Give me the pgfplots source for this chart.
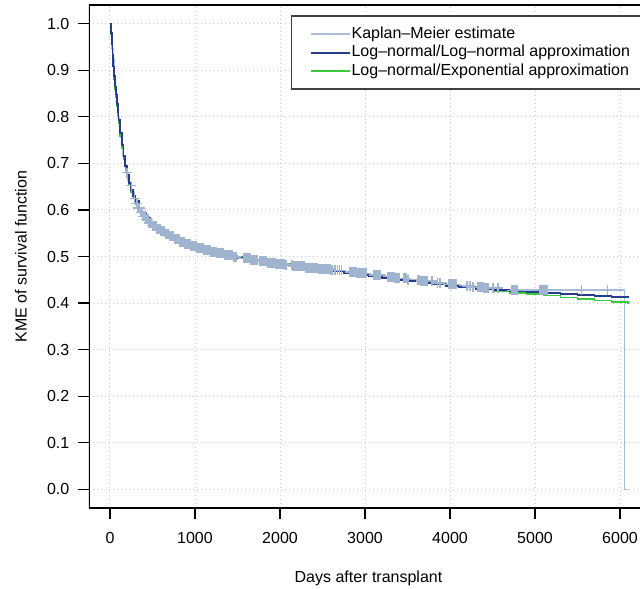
\documentclass[border=0pt]{standalone}
\usepackage{fontspec}
\setmainfont{Liberation Sans}
\usepackage{pgfplots}
\pgfplotsset{compat=1.18}
\definecolor{kmc}{HTML}{A9BCD8}
\definecolor{kmm}{HTML}{A0B3CF}
\definecolor{lnc}{HTML}{283C8E}
\definecolor{exc}{HTML}{3CC83C}
\definecolor{gridc}{HTML}{C8C8C8}
\begin{document}
\begin{tikzpicture}[font=\fontsize{16}{19}\selectfont]
\begin{axis}[name=ax, scale only axis, width=551pt, height=503pt,
  xmin=-247, xmax=6235, ymin=-0.04, ymax=1.04,
  axis line style={draw=none},
  xtick={0,1000,2000,3000,4000,5000,6000},
  ytick={0,0.1,0.2,0.3,0.4,0.5,0.6,0.7,0.8,0.9,1.0},
  xtick pos=bottom, ytick pos=left, tick align=outside, major tick length=10.5pt,
  tick style={black, line width=1.2pt},
  grid=major, major grid style={gridc, line width=1pt, dash pattern=on 1pt off 3pt},
  /pgf/number format/assume math mode=true,
  yticklabel style={anchor=east, inner sep=0pt, xshift=-9pt,
    /pgf/number format/fixed, /pgf/number format/fixed zerofill, /pgf/number format/precision=1},
  xticklabel style={anchor=north, inner sep=0pt, yshift=-14pt, /pgf/number format/1000 sep={}},
  xlabel={Days after transplant}, ylabel={KME of survival function},
  xlabel style={at={(axis description cs:0.5,0)}, anchor=center, yshift=-70pt, xshift=4pt},
  ylabel style={at={(axis description cs:0,0.5)}, anchor=center, yshift=68pt},
  legend style={at={(rel axis cs:1.0145,0.978)}, anchor=north east, outer sep=0pt,
    draw=black!75, line width=1.2pt,
    inner xsep=18pt, inner ysep=10pt, nodes={inner sep=0pt, text height=12pt, text depth=4pt},
    row sep=2.5pt, column sep=1pt},
  legend cell align=left,
  legend image code/.code={\draw[#1] (0pt,0pt) -- (39pt,0pt);},
]
\addlegendimage{kmc, line width=2pt}\addlegendentry{Kaplan--Meier estimate}
\addlegendimage{lnc, line width=2pt}\addlegendentry{Log--normal/Log--normal approximation}
\addlegendimage{exc, line width=2pt}\addlegendentry{Log--normal/Exponential approximation}

% Kaplan-Meier step function
\addplot[forget plot, const plot, kmc, line width=1.5pt] coordinates {
(0,1.000) (8,0.985) (15,0.965) (25,0.945) (35,0.925) (45,0.905) (55,0.885) (65,0.862)
(75,0.842) (85,0.822) (95,0.800) (110,0.778) (125,0.757) (140,0.737) (155,0.716) (170,0.698)
(190,0.680) (210,0.664) (230,0.652) (255,0.638) (280,0.625) (305,0.614) (330,0.604) (360,0.595)
(390,0.586) (420,0.580) (460,0.572) (500,0.566) (550,0.560) (600,0.554) (650,0.549) (700,0.543)
(760,0.537) (820,0.532) (880,0.527) (950,0.522) (1020,0.518) (1100,0.514) (1180,0.510) (1260,0.507)
(1350,0.503) (1450,0.499) (1550,0.496) (1650,0.493) (1750,0.490) (1850,0.487) (1950,0.484) (2050,0.482)
(2150,0.479) (2300,0.476) (2450,0.473) (2600,0.470) (2750,0.467) (2900,0.464) (3050,0.460) (3200,0.457)
(3350,0.453) (3500,0.450) (3650,0.447) (3800,0.443) (3950,0.440) (4100,0.437) (4250,0.434) (4400,0.432)
(4600,0.4276) (6050,0.000) (6094,0.000)
};
% censoring marks
\addplot[forget plot, only marks, mark=+, mark size=5pt, kmm, mark options={line width=1.4pt}] coordinates {
(200,0.680) (250,0.652) (290,0.625) (310,0.614) (320,0.614)
(330,0.604) (340,0.604) (350,0.604) (360,0.595) (370,0.595) (380,0.595)
(390,0.586) (400,0.586) (410,0.586) (420,0.580) (430,0.580) (440,0.580) (450,0.580)
(460,0.572) (470,0.572) (480,0.572) (490,0.572) (500,0.566) (510,0.566) (520,0.566) (530,0.566) (540,0.566)
(550,0.560) (560,0.560) (570,0.560) (580,0.560) (590,0.560) (600,0.554) (610,0.554) (620,0.554) (630,0.554) (640,0.554)
(650,0.549) (660,0.549) (670,0.549) (680,0.549) (690,0.549) (700,0.543) (710,0.543) (720,0.543) (730,0.543) (740,0.543) (750,0.543)
(760,0.537) (770,0.537) (780,0.537) (790,0.537) (800,0.537) (810,0.537) (820,0.532) (830,0.532) (840,0.532) (850,0.532) (860,0.532) (870,0.532)
(880,0.527) (890,0.527) (900,0.527) (910,0.527) (920,0.527) (930,0.527) (940,0.527) (950,0.522) (960,0.522) (970,0.522) (980,0.522) (990,0.522) (1000,0.522) (1010,0.522)
(1020,0.518) (1035,0.518) (1050,0.518) (1065,0.518) (1080,0.518) (1095,0.518)
(1100,0.514) (1115,0.514) (1130,0.514) (1145,0.514) (1160,0.514) (1175,0.514)
(1180,0.510) (1195,0.510) (1210,0.510) (1225,0.510) (1240,0.510) (1255,0.510)
(1260,0.507) (1275,0.507) (1290,0.507) (1305,0.507) (1320,0.507) (1335,0.507)
(1350,0.503) (1365,0.503) (1380,0.503) (1395,0.503) (1410,0.503) (1425,0.503) (1440,0.503)
(1450,0.499) (1465,0.499) (1480,0.499)
(1570,0.496) (1585,0.496) (1600,0.496) (1615,0.496) (1630,0.496) (1645,0.496)
(1660,0.493) (1675,0.493) (1690,0.493) (1705,0.493) (1720,0.493) (1735,0.493)
(1765,0.490) (1780,0.490) (1795,0.490) (1810,0.490) (1825,0.490) (1840,0.490)
(1855,0.487) (1870,0.487) (1885,0.487) (1900,0.487) (1915,0.487) (1930,0.487) (1945,0.487)
(1955,0.484) (1970,0.484) (1985,0.484) (2000,0.484) (2015,0.484) (2030,0.484) (2045,0.484) (2060,0.482) (2075,0.482)
(2140,0.482) (2150,0.479) (2160,0.479) (2170,0.479) (2180,0.479) (2190,0.479) (2200,0.479) (2210,0.479) (2220,0.479)
(2230,0.479) (2240,0.479) (2250,0.479) (2260,0.479) (2270,0.479) (2280,0.479) (2290,0.479)
(2300,0.476) (2310,0.476) (2320,0.476) (2330,0.476) (2340,0.476) (2350,0.476) (2360,0.476) (2370,0.476) (2380,0.476)
(2390,0.476) (2400,0.476) (2410,0.476) (2420,0.476) (2430,0.476) (2440,0.476)
(2450,0.473) (2460,0.473) (2470,0.473) (2480,0.473) (2490,0.473) (2500,0.473) (2510,0.473) (2520,0.473) (2530,0.473)
(2540,0.473) (2550,0.473) (2560,0.473) (2570,0.473) (2580,0.473) (2590,0.473)
(2600,0.470) (2610,0.470) (2620,0.470) (2645,0.470) (2675,0.470) (2700,0.470) (2720,0.470)
(2820,0.467) (2832,0.467) (2844,0.467) (2856,0.467) (2868,0.467) (2880,0.467) (2892,0.467)
(2904,0.464) (2916,0.464) (2928,0.464) (2940,0.464) (2952,0.464) (2964,0.464) (2976,0.464) (2988,0.464) (3000,0.464) (3012,0.464)
(3100,0.460) (3112,0.460) (3124,0.460) (3136,0.460) (3148,0.460) (3160,0.460) (3172,0.460) (3184,0.460)
(3270,0.457) (3282,0.457) (3294,0.457) (3306,0.457) (3318,0.457) (3330,0.457) (3342,0.457)
(3354,0.453) (3366,0.453) (3378,0.453) (3390,0.453) (3402,0.453) (3450,0.453) (3465,0.453) (3480,0.453) (3505,0.450)
(3620,0.450) (3632,0.450) (3644,0.450) (3656,0.447) (3668,0.447) (3680,0.447) (3692,0.447) (3704,0.447) (3716,0.447) (3728,0.447)
(3790,0.447) (3850,0.443) (3880,0.443)
(3980,0.440) (3992,0.440) (4004,0.440) (4016,0.440) (4028,0.440) (4040,0.440) (4052,0.440) (4064,0.440) (4076,0.440)
(4200,0.437) (4235,0.437) (4270,0.434)
(4330,0.434) (4342,0.434) (4354,0.434) (4366,0.434) (4378,0.434) (4390,0.434) (4402,0.432) (4414,0.432) (4426,0.432) (4438,0.432) (4450,0.432)
(4506,0.432) (4565,0.432)
(4730,0.4276) (4742,0.4276) (4754,0.4276) (4766,0.4276) (4778,0.4276) (4790,0.4276)
(5060,0.4276) (5072,0.4276) (5084,0.4276) (5096,0.4276) (5108,0.4276) (5120,0.4276) (5132,0.4276) (5140,0.4276)
(5550,0.4276) (5850,0.4276)
};
% Log-normal/Exponential approximation
\addplot[forget plot, const plot, exc, line width=1.5pt] coordinates {
(0,1.0) (10,0.978) (20,0.953) (30,0.928) (40,0.903) (50,0.881) (60,0.86) (70,0.842) (80,0.822)
(90,0.804) (100,0.787) (120,0.758) (140,0.733) (160,0.709) (180,0.688) (200,0.670) (225,0.652)
(250,0.637) (275,0.624) (300,0.613) (340,0.598) (380,0.587) (420,0.577) (470,0.567) (520,0.559)
(580,0.551) (640,0.545) (700,0.539) (780,0.533) (860,0.528) (940,0.523) (1000,0.520) (1100,0.515)
(1200,0.510) (1300,0.506) (1400,0.502) (1500,0.499) (1600,0.496) (1700,0.493) (1800,0.490) (1900,0.487)
(2000,0.484) (2150,0.480) (2300,0.476) (2450,0.473) (2600,0.469) (2750,0.466) (2900,0.462) (3050,0.459)
(3200,0.455) (3350,0.452) (3500,0.448) (3650,0.445) (3800,0.441) (3950,0.438) (4100,0.434) (4300,0.430)
(4500,0.426) (4700,0.422) (4900,0.419) (5100,0.416) (5300,0.412) (5500,0.409) (5700,0.405) (5900,0.402)
(6094,0.399)
};
% Log-normal/Log-normal approximation
\addplot[forget plot, const plot, lnc, line width=1.8pt] coordinates {
(0,1.0) (10,0.98) (20,0.957) (30,0.932) (40,0.908) (50,0.887) (60,0.865) (70,0.848) (80,0.828)
(90,0.81) (100,0.793) (120,0.765) (140,0.740) (160,0.716) (180,0.694) (200,0.676) (225,0.658)
(250,0.643) (275,0.630) (300,0.619) (340,0.604) (380,0.592) (420,0.582) (470,0.572) (520,0.563)
(580,0.555) (640,0.548) (700,0.541) (780,0.534) (860,0.528) (940,0.523) (1000,0.519) (1100,0.513)
(1200,0.508) (1300,0.504) (1400,0.500) (1500,0.497) (1600,0.494) (1700,0.491) (1800,0.488) (1900,0.485)
(2000,0.482) (2150,0.478) (2300,0.474) (2450,0.471) (2600,0.468) (2750,0.464) (2900,0.460) (3050,0.457)
(3200,0.453) (3350,0.450) (3500,0.447) (3650,0.443) (3800,0.440) (3950,0.437) (4100,0.434) (4300,0.431)
(4500,0.428) (4700,0.425) (4900,0.423) (5100,0.421) (5300,0.419) (5500,0.417) (5700,0.415) (5900,0.413)
(6094,0.411)
};
\draw[black, line width=1.2pt, line join=miter] (rel axis cs:1,1) -- (rel axis cs:0,1) -- (rel axis cs:0,0) -- (rel axis cs:1,0);
\end{axis}
\pgfresetboundingbox
\path ([shift={(-89pt,-81pt)}]ax.south west) rectangle ([shift={(0pt,5pt)}]ax.north east);
\end{tikzpicture}
\end{document}
